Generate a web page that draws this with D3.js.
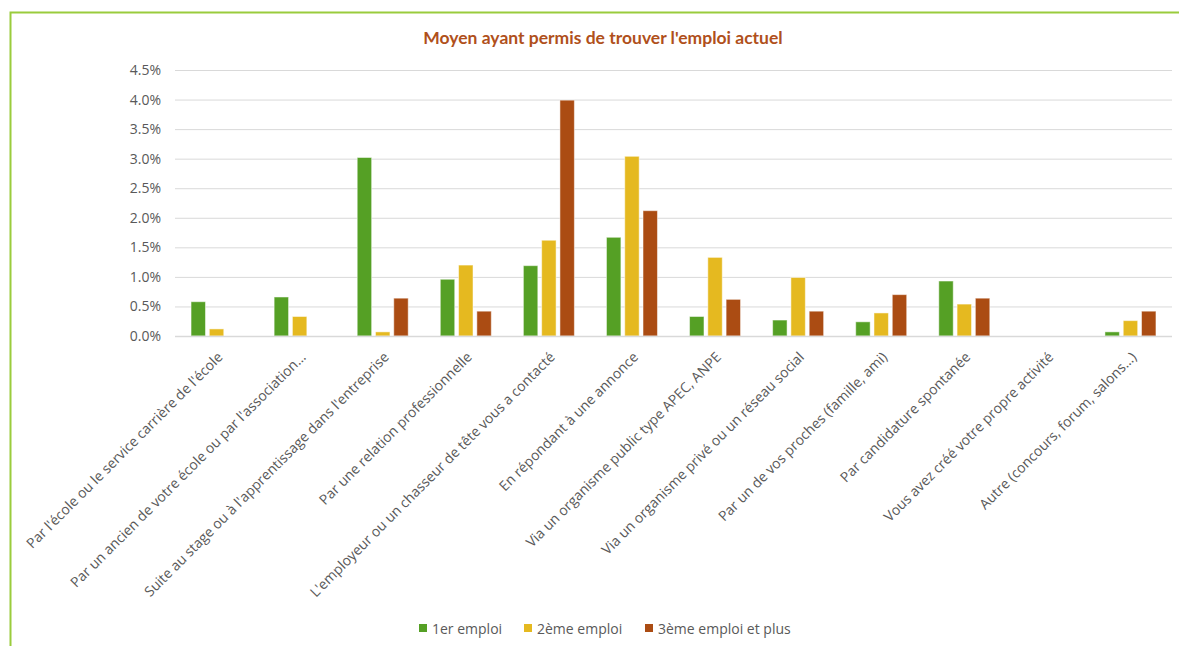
<!DOCTYPE html>
<html>
<head>
<meta charset="utf-8">
<script src="https://cdn.jsdelivr.net/npm/d3@7"></script>
<style>
  body { margin: 0; background: #fff; }
  svg { display: block; }
</style>
</head>
<body>
<div id="graph"></div>
<script>
// données (en %)
const categories = [
  "Par l'école ou le service carrière de l'école",
  "Par un ancien de votre école ou par l'association…",
  "Suite au stage ou à l'apprentissage dans l'entreprise",
  "Par une relation professionnelle",
  "L'employeur ou un chasseur de tête vous a contacté",
  "En répondant à une annonce",
  "Via un organisme public type APEC, ANPE",
  "Via un organisme privé ou un réseau social",
  "Par un de vos proches (famille, ami)",
  "Par candidature spontanée",
  "Vous avez créé votre propre activité",
  "Autre (concours, forum, salons…)"
];
const seriesNames = ["1er emploi", "2ème emploi", "3ème emploi et plus"];
const premierEmploi = [0.58, 0.66, 3.02, 0.96, 1.19, 1.67, 0.33, 0.27, 0.24, 0.93, 0, 0.07];
const deuxiemeEmploi = [0.12, 0.33, 0.07, 1.20, 1.62, 3.04, 1.33, 0.99, 0.39, 0.54, 0, 0.26];
const troisiemeEmploi = [0, 0, 0.64, 0.42, 3.99, 2.12, 0.62, 0.42, 0.70, 0.64, 0, 0.42];
const yTicks = [0, 0.5, 1, 1.5, 2, 2.5, 3, 3.5, 4, 4.5];
const colors = ["#55A025", "#E5B920", "#AB4C13"];

const width = 1179, height = 646;
const seriesValues = [premierEmploi, deuxiemeEmploi, troisiemeEmploi];

const svg = d3.select('#graph').append('svg')
  .attr('width', width)
  .attr('height', height);

// cadre vert (coupé à droite et en bas)
svg.append('path')
  .attr('d', 'M10.5,' + height + ' V12.5 H' + width)
  .attr('fill', 'none')
  .attr('stroke', '#9ACC3C')
  .attr('stroke-width', 2);

// titre
svg.append('text')
  .attr('x', 603)
  .attr('y', 44)
  .attr('text-anchor', 'middle')
  .style('font-family', 'Lato, "Open Sans", sans-serif')
  .style('font-weight', 'bold')
  .style('font-size', '17.5px')
  .style('fill', '#B0501B')
  .text("Moyen ayant permis de trouver l'emploi actuel");

const x = d3.scaleBand().domain(categories).range([175, 1172]).padding(0);
const x1 = d3.scaleBand().domain(seriesNames).range([-25.5, 25.5]).paddingInner(0.21);
const y = d3.scaleLinear().domain([0, 4.5]).range([336, 70]);

// grille + axe Y
const yAxis = d3.axisLeft(y)
  .tickValues(yTicks)
  .tickSize(-(1172 - 175))
  .tickPadding(14)
  .tickFormat(d => d3.format('.1f')(d) + '%');

const gy = svg.append('g')
  .attr('transform', 'translate(175,0)')
  .call(yAxis);
gy.select('.domain').remove();
gy.selectAll('.tick line').attr('stroke', '#D9D9D9').attr('stroke-width', 1);
gy.selectAll('.tick text')
  .style('font-family', '"Open Sans", sans-serif')
  .style('font-size', '14px')
  .style('fill', '#595959');

// barres
const groups = svg.append('g').selectAll('g')
  .data(categories)
  .join('g')
  .attr('transform', d => 'translate(' + (x(d) + x.bandwidth() / 2) + ',0)');

groups.selectAll('rect')
  .data((d, i) => seriesNames.map((s, k) => ({ s: s, k: k, v: seriesValues[k][i] })))
  .join('rect')
  .filter(d => d.v > 0)
  .attr('x', d => x1(d.s))
  .attr('width', x1.bandwidth())
  .attr('y', d => y(d.v))
  .attr('height', d => y(0) - y(d.v))
  .attr('fill', d => colors[d.k])
  .attr('stroke', 'rgba(255,255,255,0.5)')
  .attr('stroke-width', 1);

// axe X (ligne de base)
svg.append('line')
  .attr('x1', 175).attr('x2', 1172)
  .attr('y1', y(0) + 0.5).attr('y2', y(0) + 0.5)
  .attr('stroke', '#D9D9D9')
  .attr('stroke-width', 1.5);

// libellés des catégories, inclinés à 45°
svg.append('g').selectAll('text')
  .data(categories)
  .join('text')
  .attr('transform', d => 'translate(' + (x(d) + x.bandwidth() / 2 + 7) + ',358) rotate(-45)')
  .attr('text-anchor', 'end')
  .style('font-family', '"Open Sans", sans-serif')
  .style('font-size', '14px')
  .style('fill', '#595959')
  .text(d => d);

// légende
const legendX = [419, 524, 645];
const legend = svg.append('g').selectAll('g')
  .data(seriesNames)
  .join('g')
  .attr('transform', (d, i) => 'translate(' + legendX[i] + ',624)');

legend.append('rect')
  .attr('width', 8).attr('height', 8)
  .attr('fill', (d, i) => colors[i]);

legend.append('text')
  .attr('x', 13)
  .attr('y', 9.5)
  .style('font-family', '"Open Sans", sans-serif')
  .style('font-size', '14px')
  .style('fill', '#595959')
  .text(d => d);
</script>
</body>
</html>
